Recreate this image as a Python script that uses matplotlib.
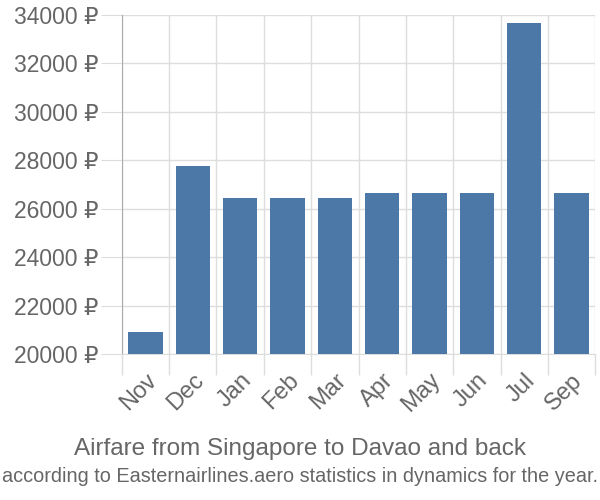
import numpy as np
import matplotlib.pyplot as plt

months = ["Nov", "Dec", "Jan", "Feb", "Mar", "Apr", "May", "Jun", "Jul", "Sep"]
prices = [20900, 27770, 26460, 26460, 26460, 26650, 26650, 26650, 33650, 26650]
y_ticks = list(range(20000, 34001, 2000))

FONT = ["Liberation Sans", "DejaVu Sans"]
TXT = "#666666"
GRID = "#dddddd"

fig = plt.figure(figsize=(6, 5), dpi=100)
ax = fig.add_axes([0.203, 0.292, 0.789, 0.678])

x = np.arange(len(months))
ax.bar(x, prices, width=0.72, color="#4c78a8", zorder=3)

ax.set_xlim(-0.5, len(months) - 0.5)
ax.set_ylim(20000, 34000)

ax.set_yticks(y_ticks)
ax.set_yticklabels([f"{v} ₽" for v in y_ticks], family=FONT, fontsize=16.5, color=TXT)
ax.tick_params(axis="y", length=15, color=GRID, pad=2)
ax.grid(axis="y", color=GRID, linewidth=1, zorder=0)

ax.set_xticks(x)
ax.set_xticklabels(months, rotation=45, ha="right", rotation_mode="anchor",
                   family=FONT, fontsize=17, color=TXT)
ax.tick_params(axis="x", length=0, pad=11)
ax.set_xticks(np.arange(len(months) + 1) - 0.5, minor=True)
ax.tick_params(axis="x", which="minor", length=15, color=GRID, width=1)
ax.grid(axis="x", which="minor", color=GRID, linewidth=1, zorder=0)

for s in ["top", "right"]:
    ax.spines[s].set_visible(False)
ax.spines["bottom"].set_color(GRID)
ax.spines["left"].set_color("#aaaaaa")

fig.text(0.5, 0.09, "Airfare from Singapore to Davao and back", ha="center",
         family=FONT, fontsize=17.5, color=TXT)
fig.text(0.5, 0.035, "according to Easternairlines.aero statistics in dynamics for the year.",
         ha="center", family=["Liberation Sans Narrow"] + FONT, fontsize=14.3, color=TXT)

fig.savefig("out.png")
